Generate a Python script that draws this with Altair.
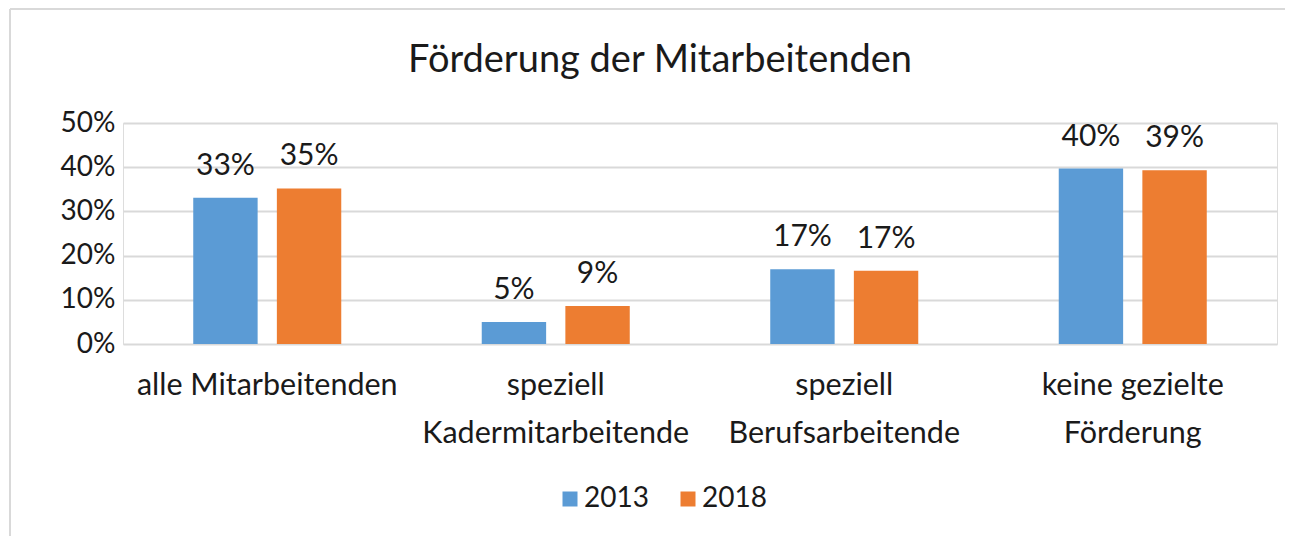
import altair as alt
import pandas as pd

title_text = "Förderung der Mitarbeitenden"
categories = ["alle Mitarbeitenden", "speziell|Kadermitarbeitende",
              "speziell|Berufsarbeitende", "keine gezielte|Förderung"]
years = ["2013", "2018"]
values_2013 = [0.331, 0.050, 0.169, 0.397]
values_2018 = [0.352, 0.086, 0.166, 0.393]
colors = ["#5B9BD5", "#ED7D31"]
y_ticks = [0, 0.1, 0.2, 0.3, 0.4, 0.5]

rows = []
for c, v in zip(categories, values_2013):
    rows.append({"cat": c, "year": "2013", "val": v})
for c, v in zip(categories, values_2018):
    rows.append({"cat": c, "year": "2018", "val": v})
df = pd.DataFrame(rows)

FONT = "Lato"
TXT = "#1a1a1a"

x_enc = alt.X("cat:N", sort=categories, title=None,
              scale=alt.Scale(paddingInner=0, paddingOuter=0),
              axis=alt.Axis(labelExpr="split(datum.label, '|')", labelAngle=0,
                            domain=False, ticks=False, labelFont=FONT, labelLimit=0,
                            labelFontSize=30.5, labelColor=TXT, labelPadding=26,
                            labelLineHeight=48, labelBaseline="top", grid=False))
xoff = alt.XOffset("year:N", sort=years,
                   scale=alt.Scale(paddingInner=0.23, paddingOuter=0.84))
y_enc = alt.Y("val:Q", title=None,
              scale=alt.Scale(domain=[0, 0.5], nice=False),
              axis=alt.Axis(values=y_ticks, format=".0%", domain=False, ticks=False,
                            labelFont=FONT, labelFontSize=28, labelColor=TXT,
                            labelPadding=8, gridColor="#d9d9d9", gridWidth=2))
color_enc = alt.Color("year:N", sort=years,
                      scale=alt.Scale(domain=years, range=colors),
                      legend=alt.Legend(title=None, orient="none", direction="horizontal",
                                        legendX=433, legendY=362,
                                        symbolType="square", symbolSize=225,
                                        symbolStrokeWidth=0, labelFont=FONT,
                                        labelFontSize=28, labelColor=TXT,
                                        labelOffset=0, columnPadding=25))

base = alt.Chart(df)
bars = base.mark_bar().encode(x=x_enc, xOffset=xoff, y=y_enc, color=color_enc)
labels = base.mark_text(font=FONT, fontSize=30, color=TXT, baseline="alphabetic", dy=-23).encode(
    x=alt.X("cat:N", sort=categories), xOffset=xoff, y="val:Q",
    text=alt.Text("val:Q", format=".0%"))

single = alt.Data(values=[{"t": title_text}])
title = alt.Chart(single).mark_text(font=FONT, fontSize=38, color=TXT,
                                     baseline="alphabetic", align="center").encode(
    x=alt.value(537), y=alt.value(-51), text="t:N")

border_top = alt.Chart(alt.Data(values=[{}])).mark_rule(color="#d9d9d9", strokeWidth=2).encode(
    x=alt.value(-113), x2=alt.value(1200), y=alt.value(-114), y2=alt.value(-114))
border_left = alt.Chart(alt.Data(values=[{}])).mark_rule(color="#d9d9d9", strokeWidth=2).encode(
    x=alt.value(-113), x2=alt.value(-113), y=alt.value(-114), y2=alt.value(420))

chart = alt.layer(border_top, border_left, title, bars, labels).properties(
    width=1154, height=221,
    autosize=alt.AutoSizeParams(type="none"),
    padding={"left": 115, "top": 115, "right": 8, "bottom": 192},
).configure_view(stroke=None).configure(background="white")

chart.save("out.html", embed_options={"renderer": "svg", "actions": False})
